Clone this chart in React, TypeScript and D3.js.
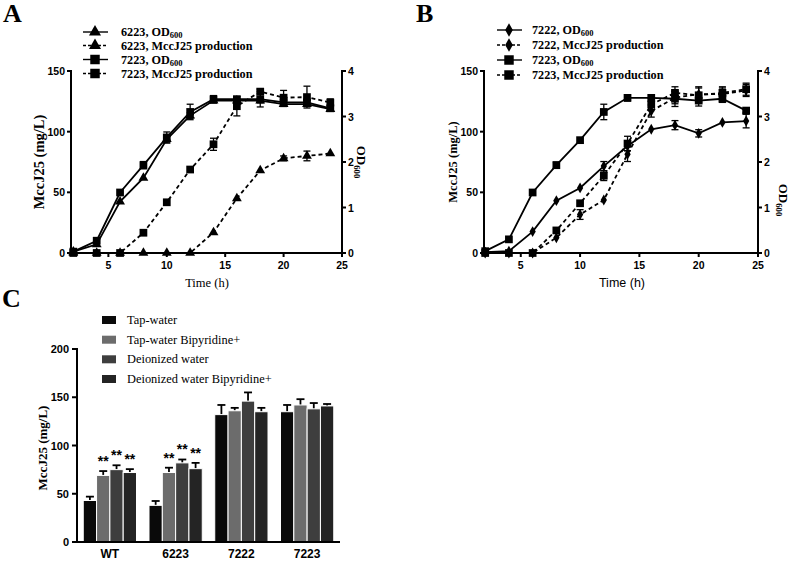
import React from 'react'
import * as d3 from 'd3'

const SERIF = '"Liberation Serif", "Times New Roman", serif'
const SANS = '"Liberation Sans", Arial, sans-serif'

// sampling times (h), shared by panels A and B
const hours = [2, 4, 6, 8, 10, 12, 14, 16, 18, 20, 22, 24]

// panel A
const a6223OD = [0.03, 0.19, 1.13, 1.65, 2.5, 3.02, 3.35, 3.35, 3.35, 3.27, 3.27, 3.16]
const a6223ODErr = [0, 0, 0, 0, 0.08, 0.06, 0.05, 0.04, 0.05, 0.05, 0.05, 0.04]
const a6223Mcc = [0, 0, 0, 0, 0, 0, 17, 45, 68, 78, 80, 82]
const a6223MccErr = [0, 0, 0, 0, 0, 0, 0, 0, 0, 2, 4, 0]
const a7223OD = [0.03, 0.27, 1.33, 1.93, 2.54, 3.1, 3.38, 3.38, 3.38, 3.31, 3.31, 3.18]
const a7223ODErr = [0, 0, 0, 0.08, 0.12, 0.17, 0.08, 0.05, 0.17, 0.05, 0.05, 0.05]
const a7223Mcc = [0, 0, 0, 16.7, 41.8, 68.8, 89.6, 121, 133, 128, 128.5, 124]
const a7223MccErr = [0, 0, 0, 0, 0, 0, 5, 8, 2, 6, 9, 3]

// panel B
const b7222OD = [0.02, 0.04, 0.47, 1.15, 1.43, 1.91, 2.35, 2.72, 2.81, 2.63, 2.87, 2.9]
const b7222ODErr = [0, 0, 0, 0, 0, 0.1, 0.1, 0, 0.1, 0.08, 0, 0.15]
const b7222Mcc = [0, 0, 0, 12.6, 31.7, 43.7, 81.4, 117, 128, 131, 131, 134]
const b7222MccErr = [0, 0, 0, 0, 4, 0, 6, 5, 5, 6, 5, 5]
const b7223OD = [0.04, 0.3, 1.33, 1.93, 2.48, 3.1, 3.41, 3.41, 3.39, 3.35, 3.39, 3.13]
const b7223ODErr = [0, 0, 0, 0.07, 0, 0.17, 0.07, 0, 0.17, 0.12, 0.08, 0.05]
const b7223Mcc = [0, 0, 0, 18.6, 41, 63.7, 90.2, 122.4, 132, 130, 132, 135]
const b7223MccErr = [0, 0, 0, 0, 0, 4, 6, 5, 5, 6, 5, 5]

// panel C
const strains = ['WT', '6223', '7222', '7223']
const conditions = ['Tap-water', 'Tap-water Bipyridine+', 'Deionized water', 'Deionized water Bipyridine+']
const tapWater = [43, 38, 132, 135]
const tapWaterErr = [4, 4.5, 10, 7]
const tapBipy = [69, 72, 136, 142]
const tapBipyErr = [4.5, 5, 3, 6]
const diWater = [75, 82, 146, 138]
const diWaterErr = [4.5, 3.5, 9, 6]
const diBipy = [72, 76, 135, 141]
const diBipyErr = [3.5, 6, 4, 2]
const stars = [
  ['', '**', '**', '**'],
  ['', '**', '**', '**'],
  ['', '', '', ''],
  ['', '', '', '']
]
const barColors = ['#0a0a0a', '#6c6c6c', '#3e3e3e', '#242424']

type Series = {
  label: string
  od: boolean
  values: number[]
  err: number[]
  symbol: d3.SymbolType
  size: number
  dashed: boolean
}

const ODLabel = ({ x, y, size }: { x: number; y: number; size: number }) => (
  <text
    transform={`translate(${x},${y}) rotate(90)`}
    textAnchor="middle"
    fontFamily={SERIF}
    fontWeight="bold"
    fontSize={size}
  >
    OD<tspan fontSize={size * 0.68} dy={3}>600</tspan>
  </text>
)

const LinePanel = (props: {
  letter: string
  letterX: number
  left: number
  right: number
  xMin: number
  series: Series[]
  legendX: number
  legendTextX: number
  legendY: number[]
  yLabelX: number
  yLabelSize: number
  odX: number
  odY: number
  timeX: number
  timeFont: string
}) => {
  const top = 71
  const bottom = 253
  const x = d3.scaleLinear().domain([props.xMin, 25]).range([props.left, props.right])
  const yL = d3.scaleLinear().domain([0, 150]).range([bottom, top])
  const yR = d3.scaleLinear().domain([0, 4]).range([bottom, top])
  const line = (s: Series) =>
    d3
      .line<number>()
      .x((_, i) => x(hours[i]))
      .y(v => (s.od ? yR(v) : yL(v)))(s.values) || ''

  return (
    <g>
      <text x={props.letterX} y={22} fontFamily={SERIF} fontWeight="bold" fontSize={26}>
        {props.letter}
      </text>

      {/* legend */}
      {props.series.map((s, i) => (
        <g key={'lg' + i} transform={`translate(0,${props.legendY[i]})`}>
          <line
            x1={props.legendX - 12}
            x2={props.legendX + 13}
            stroke="#000"
            strokeWidth={1.4}
            strokeDasharray={s.dashed ? '3,2' : undefined}
          />
          <path
            d={d3.symbol().type(s.symbol).size(s.size * 1.5)() || ''}
            transform={`translate(${props.legendX},0)`}
            fill="#000"
          />
          <text
            x={props.legendTextX}
            y={4}
            fontFamily={SERIF}
            fontWeight="bold"
            fontSize={12.2}
          >
            {s.od ? (
              <>
                {s.label}, OD<tspan fontSize={8.5} dy={2}>600</tspan>
              </>
            ) : (
              `${s.label}, MccJ25 production`
            )}
          </text>
        </g>
      ))}

      {/* series */}
      {props.series.map((s, i) => (
        <g key={'s' + i}>
          <path
            d={line(s)}
            fill="none"
            stroke="#000"
            strokeWidth={1.8}
            strokeDasharray={s.dashed ? '4,3' : undefined}
          />
          {s.values.map((v, j) => {
            const sc = s.od ? yR : yL
            const e = s.err[j]
            const cx = x(hours[j])
            return (
              <g key={j}>
                {e > 0 && (
                  <g stroke="#000" strokeWidth={1.3}>
                    <line x1={cx} x2={cx} y1={sc(v - e)} y2={sc(v + e)} />
                    <line x1={cx - 3.5} x2={cx + 3.5} y1={sc(v - e)} y2={sc(v - e)} />
                    <line x1={cx - 3.5} x2={cx + 3.5} y1={sc(v + e)} y2={sc(v + e)} />
                  </g>
                )}
                <path
                  d={d3.symbol().type(s.symbol).size(s.size)() || ''}
                  transform={`translate(${cx},${sc(v)})`}
                  fill="#000"
                />
              </g>
            )
          })}
        </g>
      ))}

      {/* axes */}
      <g stroke="#000" strokeWidth={2} fill="none">
        <line x1={props.left} x2={props.left} y1={top - 1} y2={bottom + 1} />
        <line x1={props.right} x2={props.right} y1={top - 1} y2={bottom + 1} />
        <line x1={props.left} x2={props.right} y1={bottom} y2={bottom} />
        {yL.ticks(3).map(t => (
          <line key={'l' + t} x1={props.left - 4} x2={props.left} y1={yL(t)} y2={yL(t)} />
        ))}
        {yR.ticks(4).map(t => (
          <line key={'r' + t} x1={props.right} x2={props.right + 4} y1={yR(t)} y2={yR(t)} />
        ))}
        {x.ticks(5).map(t => (
          <line key={'x' + t} x1={x(t)} x2={x(t)} y1={bottom} y2={bottom + 4} />
        ))}
      </g>
      <g fontFamily={SANS} fontWeight="bold" fontSize={10.5}>
        {yL.ticks(3).map(t => (
          <text key={'l' + t} x={props.left - 6} y={yL(t) + 4} textAnchor="end">
            {t}
          </text>
        ))}
        {yR.ticks(4).map(t => (
          <text key={'r' + t} x={props.right + 6} y={yR(t) + 4}>
            {t}
          </text>
        ))}
        {x.ticks(5).map(t => (
          <text key={'x' + t} x={x(t)} y={bottom + 16} textAnchor="middle">
            {t}
          </text>
        ))}
      </g>

      <text
        transform={`translate(${props.yLabelX},162) rotate(-90)`}
        textAnchor="middle"
        fontFamily={SERIF}
        fontWeight="bold"
        fontSize={props.yLabelSize}
      >
        MccJ25 (mg/L)
      </text>
      <ODLabel x={props.odX} y={props.odY} size={13} />
      <text x={props.timeX} y={287} textAnchor="middle" fontFamily={props.timeFont} fontSize={12.5}>
        Time (h)
      </text>
    </g>
  )
}

const BarPanel = () => {
  const left = 77
  const right = 340
  const bottom = 542
  const top = 349
  const values = [tapWater, tapBipy, diWater, diBipy]
  const errs = [tapWaterErr, tapBipyErr, diWaterErr, diBipyErr]
  const x0 = d3.scaleBand().domain(strains).range([left, right]).paddingInner(0.19).paddingOuter(0.095)
  const x1 = d3.scaleBand().domain(conditions).range([0, x0.bandwidth()])
  const y = d3.scaleLinear().domain([0, 200]).range([bottom, top])
  const legendY = [320, 339.7, 359.3, 379]

  return (
    <g>
      <text x={2} y={307} fontFamily={SERIF} fontWeight="bold" fontSize={26}>
        C
      </text>
      {conditions.map((c, i) => (
        <g key={c}>
          <rect x={102} y={legendY[i] - 4} width={14} height={8} fill={barColors[i]} />
          <text x={127} y={legendY[i] + 4} fontFamily={SERIF} fontSize={12.4}>
            {c}
          </text>
        </g>
      ))}

      {strains.map((s, gi) => (
        <g key={s} transform={`translate(${x0(s)},0)`}>
          {conditions.map((c, ci) => {
            const v = values[ci][gi]
            const e = errs[ci][gi]
            const bx = x1(c) || 0
            const cx = bx + x1.bandwidth() / 2
            return (
              <g key={c}>
                <g stroke="#000" strokeWidth={1.8}>
                  <line x1={cx} x2={cx} y1={y(v)} y2={y(v + e)} />
                  <line x1={cx - 4} x2={cx + 4} y1={y(v + e)} y2={y(v + e)} />
                </g>
                <rect
                  x={bx}
                  y={y(v)}
                  width={x1.bandwidth()}
                  height={bottom - y(v)}
                  fill={barColors[ci]}
                  stroke="#fff"
                  strokeWidth={1}
                />
                {stars[gi][ci] && (
                  <text
                    x={cx}
                    y={y(v + e) - 5}
                    textAnchor="middle"
                    fontFamily={SANS}
                    fontWeight="bold"
                    fontSize={14}
                  >
                    {stars[gi][ci]}
                  </text>
                )}
              </g>
            )
          })}
        </g>
      ))}

      <g stroke="#000" strokeWidth={2}>
        <line x1={left} x2={left} y1={top - 1} y2={bottom + 1} />
        <line x1={left} x2={right} y1={bottom} y2={bottom} />
        {y.ticks(4).map(t => (
          <line key={t} x1={left - 5} x2={left} y1={y(t)} y2={y(t)} />
        ))}
      </g>
      <g fontFamily={SANS} fontWeight="bold">
        {y.ticks(4).map(t => (
          <text key={t} x={left - 8} y={y(t) + 4} textAnchor="end" fontSize={11}>
            {t}
          </text>
        ))}
        {strains.map(s => (
          <text key={s} x={(x0(s) || 0) + x0.bandwidth() / 2} y={557.5} textAnchor="middle" fontSize={12}>
            {s}
          </text>
        ))}
      </g>
      <text
        transform="translate(47,448) rotate(-90)"
        textAnchor="middle"
        fontFamily={SERIF}
        fontWeight="bold"
        fontSize={13}
      >
        MccJ25 (mg/L)
      </text>
    </g>
  )
}

export default function App() {
  const seriesA: Series[] = [
    { label: '6223', od: true, values: a6223OD, err: a6223ODErr, symbol: d3.symbolTriangle, size: 42, dashed: false },
    { label: '6223', od: false, values: a6223Mcc, err: a6223MccErr, symbol: d3.symbolTriangle, size: 42, dashed: true },
    { label: '7223', od: true, values: a7223OD, err: a7223ODErr, symbol: d3.symbolSquare, size: 60, dashed: false },
    { label: '7223', od: false, values: a7223Mcc, err: a7223MccErr, symbol: d3.symbolSquare, size: 60, dashed: true }
  ]
  const seriesB: Series[] = [
    { label: '7222', od: true, values: b7222OD, err: b7222ODErr, symbol: d3.symbolDiamond, size: 34, dashed: false },
    { label: '7222', od: false, values: b7222Mcc, err: b7222MccErr, symbol: d3.symbolDiamond, size: 34, dashed: true },
    { label: '7223', od: true, values: b7223OD, err: b7223ODErr, symbol: d3.symbolSquare, size: 60, dashed: false },
    { label: '7223', od: false, values: b7223Mcc, err: b7223MccErr, symbol: d3.symbolSquare, size: 60, dashed: true }
  ]

  return (
    <svg
      width={791}
      height={561}
      viewBox="0 0 791 561"
      style={{ position: 'absolute', left: 0, top: 0, background: '#fff' }}
    >
      <rect width={791} height={561} fill="#fff" />
      <LinePanel
        letter="A"
        letterX={3}
        left={71}
        right={342}
        xMin={1.8}
        series={seriesA}
        legendX={95}
        legendTextX={121}
        legendY={[32, 45.5, 59.5, 73.5]}
        yLabelX={44}
        yLabelSize={14.5}
        odX={357}
        odY={162}
        timeX={207}
        timeFont={SERIF}
      />
      <LinePanel
        letter="B"
        letterX={416}
        left={484}
        right={758}
        xMin={1.9}
        series={seriesB}
        legendX={509}
        legendTextX={532}
        legendY={[30, 45, 60, 75]}
        yLabelX={457}
        yLabelSize={12.5}
        odX={779}
        odY={200}
        timeX={622}
        timeFont={SANS}
      />
      <BarPanel />
    </svg>
  )
}
